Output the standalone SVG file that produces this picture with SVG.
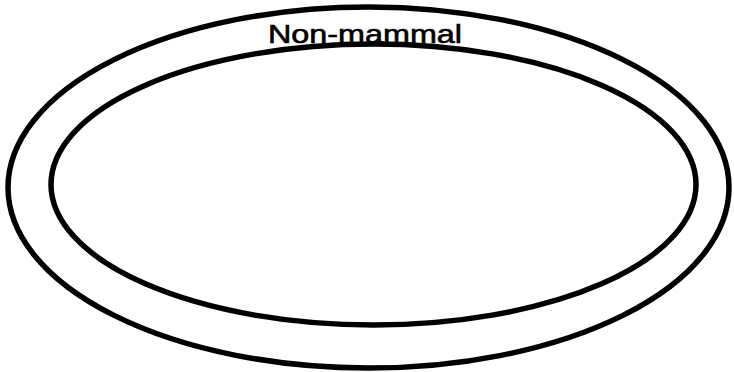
<svg xmlns="http://www.w3.org/2000/svg" width="734" height="372" viewBox="0 0 734 372">
<style>
.ring{fill:none;stroke:#000;stroke-width:5.5}
.lbl{font-family:"Liberation Sans",Arial,sans-serif;font-size:25px;fill:#000;stroke:#000;stroke-width:0.6}
</style>
<rect width="734" height="372" fill="#fff"/>
<g id="outer">
<ellipse class="ring" cx="368.5" cy="187.5" rx="360.5" ry="180.5"/>
</g>
<g id="inner">
<ellipse class="ring" cx="373.5" cy="184.5" rx="322.5" ry="140.5"/>
</g>
<g id="label">
<text class="lbl" x="268" y="43" textLength="194" lengthAdjust="spacingAndGlyphs">Non-mammal</text>
</g>
</svg>
